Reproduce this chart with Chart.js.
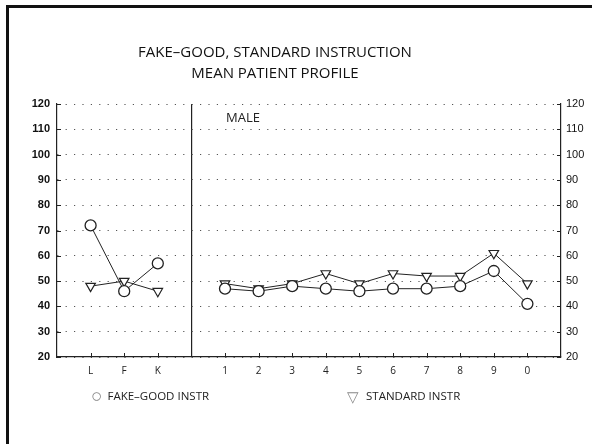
<!DOCTYPE html>
<html>
<head>
<meta charset="UTF-8">
<title>Fake-good, standard instruction</title>
<script src="https://cdn.jsdelivr.net/npm/chart.js"></script>
<style>
  body { margin: 0; background: #fff; }
  #wrap { position: relative; width: 592px; height: 444px; overflow: hidden; }
  #frame {
    position: absolute; left: 6px; top: 5px; width: 700px; height: 600px;
    border-top: 3px solid #111; border-left: 3px solid #111;
  }
  canvas { position: absolute; left: 0; top: 0; }
  #title {
    position: absolute; left: 0; top: 41px; width: 550px; text-align: center;
    font: 15px/21px "Open Sans", sans-serif; color: #111;
  }
  #legend {
    position: absolute; top: 387px; left: 0; width: 592px;
    font: 11.5px/18px "Open Sans", sans-serif; color: #222;
  }
  #legend span.item { position: absolute; white-space: nowrap; }
  #legend span.sym { color: #888; font-size: 15px; margin-right: 7px; vertical-align: top; }
  #legend span.sym.circle { font-size: 19px; line-height: 17px; margin-right: 5px; }
</style>
</head>
<body>
<div id="wrap">
  <div id="frame"></div>
  <canvas id="profile" width="592" height="444"></canvas>
  <div id="title">FAKE–GOOD, STANDARD INSTRUCTION<br>MEAN PATIENT PROFILE</div>
  <div id="legend"></div>
</div>

<script>
const validityScales = ['L', 'F', 'K'];
const clinicalScales = ['1', '2', '3', '4', '5', '6', '7', '8', '9', '0'];

const fakeGoodValidity = [72, 46, 57];
const fakeGoodClinical = [47, 46, 48, 47, 46, 47, 47, 48, 54, 41];

const standardValidity = [48, 50, 46];
const standardClinical = [49, 47, 49, 53, 49, 53, 52, 52, 61, 49];

const yMin = 20;
const yMax = 120;
const yStep = 10;

// blank slots: left edge, the divider between validity and clinical, right edge
const labels = ['', ...validityScales, '', ...clinicalScales, ''];
const dividerIndex = validityScales.length + 1;
const series = (v, c) => [null, ...v, null, ...c, null];

const innerTicks = {
  id: 'innerTicks',
  afterDraw(chart) {
    const { ctx, chartArea: a, scales: { x, y } } = chart;
    ctx.save();
    ctx.strokeStyle = '#222';
    ctx.lineWidth = 1;
    ctx.beginPath();
    x.ticks.forEach((t, i) => {
      if (i === 0 || i === x.ticks.length - 1) return;
      const px = Math.round(x.getPixelForTick(i)) + 0.5;
      ctx.moveTo(px, a.bottom);
      ctx.lineTo(px, a.bottom - 4);
    });
    y.ticks.forEach((t, i) => {
      const py = Math.round(y.getPixelForTick(i)) + 0.5;
      ctx.moveTo(a.left, py);
      ctx.lineTo(a.left + 4, py);
      ctx.moveTo(a.right, py);
      ctx.lineTo(a.right - 4, py);
    });
    ctx.stroke();

    ctx.fillStyle = '#222';
    ctx.font = '13px "Open Sans", sans-serif';
    ctx.textBaseline = 'middle';
    ctx.fillText('MALE', x.getPixelForValue(dividerIndex + 1) + 1, y.getPixelForValue(114.5));
    ctx.restore();
  }
};

const chart = new Chart(document.getElementById('profile'), {
  type: 'line',
  data: {
    labels: labels,
    datasets: [
      {
        label: 'FAKE–GOOD INSTR',
        data: series(fakeGoodValidity, fakeGoodClinical),
        borderColor: '#222',
        borderWidth: 1,
        pointStyle: 'circle',
        pointRadius: 5.5,
        pointBackgroundColor: '#fff',
        pointBorderColor: '#222',
        pointBorderWidth: 1.3,
        spanGaps: false
      },
      {
        label: 'STANDARD INSTR',
        data: series(standardValidity, standardClinical),
        borderColor: '#222',
        borderWidth: 1,
        pointStyle: 'triangle',
        pointRotation: 180,
        pointRadius: 5.5,
        pointBackgroundColor: '#fff',
        pointBorderColor: '#222',
        pointBorderWidth: 1.2,
        spanGaps: false
      }
    ]
  },
  options: {
    responsive: false,
    animation: false,
    layout: { padding: { left: 17, right: 0, top: 104, bottom: 59 } },
    plugins: {
      legend: { display: false },
      tooltip: { enabled: false },
      title: { display: false }
    },
    scales: {
      x: {
        type: 'category',
        offset: false,
        grid: {
          drawTicks: false,
          color: c => (c.index === dividerIndex ? '#222' : 'transparent'),
          lineWidth: 1.2
        },
        border: { display: true, color: '#222', width: 1.2 },
        ticks: {
          autoSkip: false,
          maxRotation: 0,
          padding: 8,
          color: '#222',
          font: { family: '"Open Sans", sans-serif', size: 10 }
        }
      },
      y: {
        position: 'left',
        min: yMin,
        max: yMax,
        afterFit: s => { s.width = 40; },
        grid: { drawTicks: false, color: '#555', lineWidth: 1 },
        border: { display: true, color: '#222', width: 1.2, dash: [1.2, 7.2] },
        ticks: {
          stepSize: yStep,
          padding: 7,
          color: '#111',
          font: { family: '"Liberation Sans", Arial, sans-serif', size: 11, weight: 'bold' }
        }
      },
      y2: {
        position: 'right',
        min: yMin,
        max: yMax,
        afterFit: s => { s.width = 31; },
        grid: { display: false, drawTicks: false },
        border: { display: true, color: '#222', width: 1.2 },
        ticks: {
          stepSize: yStep,
          padding: 5,
          color: '#111',
          font: { family: '"Liberation Sans", Arial, sans-serif', size: 11 }
        }
      }
    }
  },
  plugins: [innerTicks]
});

// legend below the plot, spaced like the original
const symbols = { circle: '○', triangle: '▽' };
const legendX = [91, 347];
const legendEl = document.getElementById('legend');
chart.data.datasets.forEach((ds, i) => {
  const item = document.createElement('span');
  item.className = 'item';
  item.style.left = legendX[i] + 'px';
  item.innerHTML = '<span class="sym ' + ds.pointStyle + '">' + symbols[ds.pointStyle] + '</span>' + ds.label;
  legendEl.appendChild(item);
});
</script>
</body>
</html>
